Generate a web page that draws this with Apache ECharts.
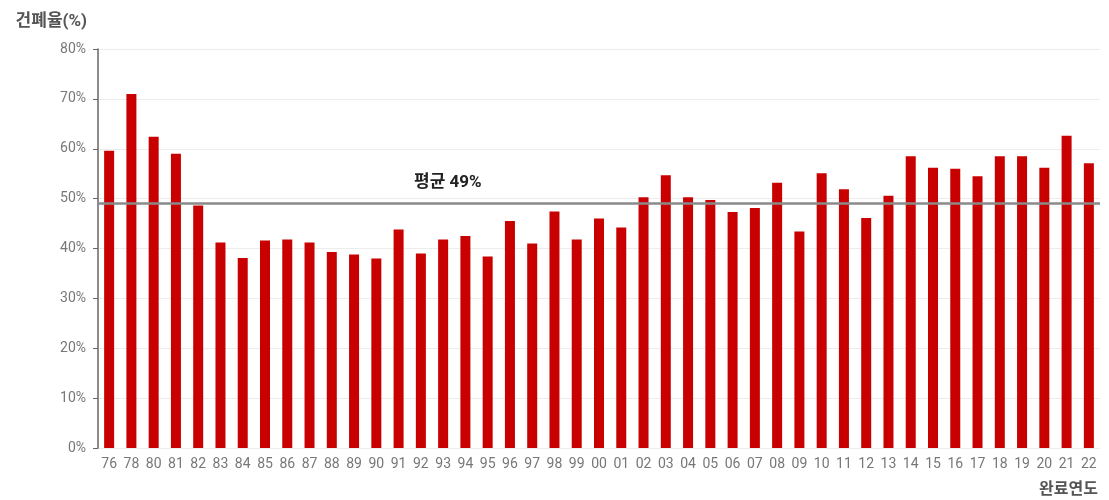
<!DOCTYPE html>
<html>
<head>
<meta charset="utf-8">
<script src="https://cdn.jsdelivr.net/npm/echarts@6/dist/echarts.min.js"></script>
<style>
  html, body { margin: 0; padding: 0; background: #fff; }
  #chart { width: 1109px; height: 500px; }
</style>
</head>
<body>
<div id="chart"></div>
<script>
// Completion year (two-digit) and building coverage ratio (%)
const years = ['76','78','80','81','82','83','84','85','86','87','88','89','90','91','92','93','94','95','96','97','98','99',
               '00','01','02','03','04','05','06','07','08','09','10','11','12','13','14','15','16','17','18','19','20','21','22'];
const coverage = [59.6, 71.0, 62.4, 59.0, 48.6, 41.2, 38.1, 41.6, 41.8, 41.2, 39.3, 38.8, 38.0, 43.8, 39.0, 41.8, 42.5, 38.4, 45.5, 41.0, 47.4, 41.8,
                  46.0, 44.2, 50.3, 54.7, 50.3, 49.7, 47.3, 48.1, 53.2, 43.4, 55.1, 51.9, 46.1, 50.6, 58.5, 56.2, 56.0, 54.5, 58.5, 58.5, 56.2, 62.6, 57.1];
const average = 49;
const yTicks = { min: 0, max: 80, interval: 10 };

const font = 'Roboto, "Noto Sans CJK KR", sans-serif';
const chart = echarts.init(document.getElementById('chart'));
chart.setOption({
  animation: false,
  grid: { left: 98, right: 9, top: 49, bottom: 52 },
  xAxis: {
    type: 'category',
    data: years,
    name: '완료연도',
    nameLocation: 'end',
    nameGap: 0,
    nameTextStyle: {
      fontFamily: font, fontSize: 16, fontWeight: 'bold', color: '#555',
      align: 'right', verticalAlign: 'top', padding: [34, 2, 0, 0]
    },
    axisLine: { show: false },
    axisTick: { show: false },
    axisLabel: { fontFamily: font, fontSize: 14, color: '#777', margin: 10, interval: 0 }
  },
  yAxis: {
    type: 'value',
    min: yTicks.min, max: yTicks.max, interval: yTicks.interval,
    name: '건폐율(%)',
    nameLocation: 'end',
    nameGap: 19,
    nameTextStyle: {
      fontFamily: font, fontSize: 17, fontWeight: 'bold', color: '#555',
      align: 'right', padding: [0, 11, 0, 0]
    },
    axisLine: { show: true, lineStyle: { color: '#666', width: 1.5 } },
    axisTick: { show: true, length: 5, lineStyle: { color: '#666' } },
    axisLabel: { fontFamily: font, fontSize: 14, color: '#777', margin: 12, formatter: '{value}%' },
    splitLine: { show: true, lineStyle: { color: '#ececec', width: 1 } }
  },
  series: [{
    type: 'bar',
    data: coverage,
    barWidth: 10,
    itemStyle: { color: '#c80000' },
    markLine: {
      silent: true,
      symbol: 'none',
      data: [{ yAxis: average }],
      lineStyle: { color: '#8a8a8a', width: 2.5, type: 'solid' },
      label: {
        position: 'insideStartTop',
        distance: [316, 12],
        formatter: '평균 ' + average + '%',
        fontFamily: font, fontSize: 17, fontWeight: 'bold', color: '#222'
      }
    }
  }]
});
</script>
</body>
</html>
